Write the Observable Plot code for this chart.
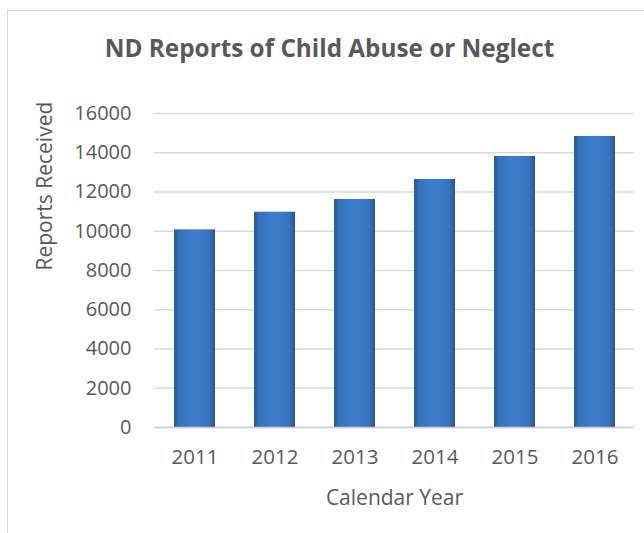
<!DOCTYPE html>
<html>
<head>
<meta charset="utf-8">
<script src="https://cdn.jsdelivr.net/npm/d3@7"></script>
<script src="https://cdn.jsdelivr.net/npm/@observablehq/plot@0.6"></script>
<style>
  html, body { margin: 0; padding: 0; background: #fff; overflow: hidden; }
  #wrap { position: relative; width: 644px; height: 533px; overflow: hidden; }
  #frame { position: absolute; left: 7px; top: 10px; width: 700px; height: 600px;
           border: 1.5px solid #d9d9d9; box-sizing: border-box; }
  #chart { position: absolute; left: 0; top: 0; }
  svg { font-family: "Open Sans", sans-serif; }
</style>
</head>
<body>
<div id="wrap"><div id="frame"></div><div id="chart"></div></div>
<script>
const title = "ND Reports of Child Abuse or Neglect";
const xLabel = "Calendar Year";
const yLabel = "Reports Received";
const years = ["2011", "2012", "2013", "2014", "2015", "2016"];
const reports = [10070, 10970, 11620, 12640, 13810, 14830];
const yTicks = [0, 2000, 4000, 6000, 8000, 10000, 12000, 14000, 16000];

const data = years.map((year, i) => ({year, value: reports[i]}));
const textColor = "#595959";

const chart = Plot.plot({
  width: 644,
  height: 533,
  marginLeft: 154,
  marginRight: 10,
  marginTop: 113,
  marginBottom: 106,
  style: {fontFamily: "'Open Sans', sans-serif", color: textColor, background: "transparent"},
  x: {domain: years, paddingInner: 0.49, paddingOuter: 0.245, label: null},
  y: {domain: [0, 16000], ticks: yTicks, label: null},
  marks: [
    Plot.gridY(yTicks, {stroke: "#d9d9d9", strokeOpacity: 1, strokeWidth: 1.3}),
    Plot.axisY({ticks: yTicks, tickSize: 0, tickPadding: 23, tickFormat: d => String(d),
      fontSize: 20, fill: textColor, label: null}),
    Plot.axisX({tickSize: 0, tickPadding: 22, fontSize: 20.5, fill: textColor, label: null}),
    Plot.barY(data, {x: "year", y: "value", fill: "url(#barGrad)"}),
    Plot.tickY(data, {x: "year", y: "value", stroke: "url(#bevelGrad)", strokeWidth: 5, dy: 2.5, inset: 1.5}),
    Plot.ruleY([0], {stroke: "#cfcfcf", strokeWidth: 1.6}),
    Plot.text([title], {frameAnchor: "top", text: d => d, dx: -65, dy: -64, lineAnchor: "middle",
      fontSize: 24.3, fontWeight: "bold", fill: textColor}),
    Plot.text([xLabel], {frameAnchor: "bottom", text: d => d, dy: 70.5, lineAnchor: "middle",
      fontSize: 21, fill: textColor}),
    Plot.text([yLabel], {frameAnchor: "left", text: d => d, dx: -109, rotate: -90, lineAnchor: "middle",
      fontSize: 21, fill: textColor})
  ]
});

const defs = d3.create("svg:defs");
const g = defs.append("linearGradient").attr("id", "barGrad")
  .attr("x1", "0").attr("x2", "1").attr("y1", "0").attr("y2", "0");
[["0%", "#2a5896"], ["12%", "#3670b8"], ["35%", "#3d7cca"], ["65%", "#3d7cca"], ["88%", "#3670b8"], ["100%", "#27528c"]]
  .forEach(([o, c]) => g.append("stop").attr("offset", o).attr("stop-color", c));
const b = defs.append("linearGradient").attr("id", "bevelGrad")
  .attr("x1", "0").attr("x2", "1").attr("y1", "0").attr("y2", "0");
[["0%", "#5a9be0"], ["15%", "#6cb3f5"], ["85%", "#6cb3f5"], ["100%", "#5a9be0"]]
  .forEach(([o, c]) => b.append("stop").attr("offset", o).attr("stop-color", c));
chart.insertBefore(defs.node(), chart.firstChild);

document.getElementById("chart").appendChild(chart);
</script>
</body>
</html>
